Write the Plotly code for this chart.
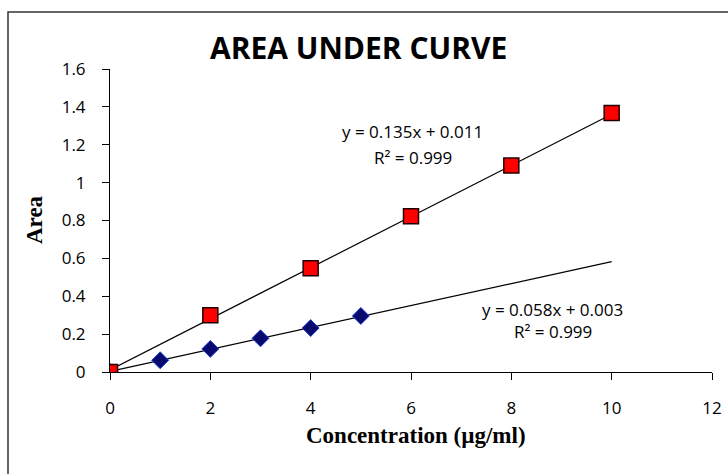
import plotly.graph_objects as go

# Data
conc_red = [0, 2, 4, 6, 8, 10]
area_red = [0.0, 0.30, 0.548, 0.822, 1.09, 1.367]
conc_blue = [0, 1, 2, 3, 4, 5]
area_blue = [0.0, 0.062, 0.122, 0.178, 0.232, 0.296]

fit_red = (0.135, 0.011)
fit_blue = (0.058, 0.003)
fit_x = [0, 10]

x_ticks = [0, 2, 4, 6, 8, 10, 12]
y_ticks = [0, 0.2, 0.4, 0.6, 0.8, 1, 1.2, 1.4, 1.6]
y_tick_text = ["0", "0.2", "0.4", "0.6", "0.8", "1", "1.2", "1.4", "1.6"]

W, H = 728, 474
L, R, T, B = 110, 16, 69, 102
pw, ph = W - L - R, H - T - B

fig = go.Figure()

fig.add_trace(go.Scatter(x=fit_x, y=[fit_red[0] * v + fit_red[1] for v in fit_x],
                         mode="lines", line=dict(color="black", width=1.2),
                         showlegend=False, hoverinfo="skip"))
fig.add_trace(go.Scatter(x=fit_x, y=[fit_blue[0] * v + fit_blue[1] for v in fit_x],
                         mode="lines", line=dict(color="black", width=1.2),
                         showlegend=False, hoverinfo="skip"))
fig.add_trace(go.Scatter(x=conc_blue, y=area_blue, mode="markers",
                         marker=dict(symbol="diamond", size=13, color="#0a0a6e",
                                     line=dict(color="#1a3fd0", width=1)),
                         showlegend=False))
fig.add_trace(go.Scatter(x=conc_red, y=area_red, mode="markers",
                         marker=dict(symbol="square", size=15, color="#ff0000",
                                     line=dict(color="#200000", width=1.5)),
                         showlegend=False))

tick_font = dict(family="Open Sans", size=17, color="black")
fig.update_xaxes(range=[0, 12], tickvals=x_ticks, showline=True, linecolor="black",
                 linewidth=1, ticks="outside", ticklen=7, tickcolor="black",
                 showgrid=False, zeroline=False, tickfont=tick_font,
                 ticklabelstandoff=14, automargin=False)
fig.update_yaxes(range=[0, 1.6], tickvals=y_ticks, ticktext=y_tick_text, showline=True,
                 linecolor="black", linewidth=1, ticks="outside", ticklen=7,
                 tickcolor="black", showgrid=False, zeroline=False, tickfont=tick_font,
                 ticklabelstandoff=13, automargin=False)


def px_x(p):
    return (p - L) / pw


def px_y(p):
    return (H - B - p) / ph


ann_font = dict(family="Open Sans", size=17, color="black")
annotations = [
    dict(x=412, y=131, text="y = 0.135x + 0.011"),
    dict(x=413, y=157, text="R² = 0.999"),
    dict(x=552, y=309, text="y = 0.058x + 0.003"),
    dict(x=553, y=331, text="R² = 0.999"),
]
for a in annotations:
    fig.add_annotation(x=px_x(a["x"]), y=px_y(a["y"]), xref="paper",
                       yref="paper", text=a["text"], showarrow=False, font=ann_font,
                       xanchor="center", yanchor="middle")

fig.add_annotation(x=px_x(358), y=px_y(47), xref="paper", yref="paper",
                   text="<b>AREA UNDER CURVE</b>", showarrow=False,
                   font=dict(family="Open Sans", size=30, color="black"),
                   xanchor="center", yanchor="middle")

fig.add_annotation(x=px_x(416), y=px_y(436), xref="paper", yref="paper",
                   text="<b>Concentration (µg/ml)</b>", showarrow=False,
                   font=dict(family="Liberation Serif", size=23, color="black"),
                   xanchor="center", yanchor="middle")
fig.add_annotation(x=px_x(34), y=px_y(220), xref="paper", yref="paper",
                   text="<b>Area</b>", showarrow=False, textangle=-90,
                   font=dict(family="Liberation Serif", size=23, color="black"),
                   xanchor="center", yanchor="middle")

fig.add_shape(type="rect", xref="paper", yref="paper",
              x0=px_x(8), x1=px_x(W + 20),
              y0=px_y(H + 20), y1=px_y(12),
              line=dict(color="#333333", width=1.5), fillcolor="rgba(0,0,0,0)")

fig.update_layout(width=W, height=H, margin=dict(l=L, r=R, t=T, b=B),
                  paper_bgcolor="white", plot_bgcolor="white")

fig.write_html("out.html")
